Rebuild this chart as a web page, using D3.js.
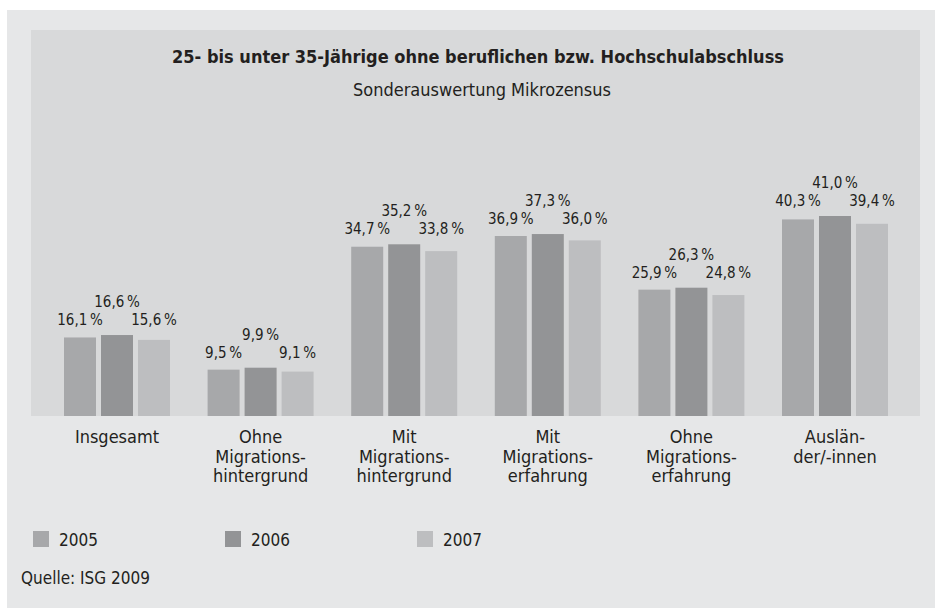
<!DOCTYPE html>
<html>
<head>
<meta charset="utf-8">
<script src="https://cdn.jsdelivr.net/npm/d3@7"></script>
<style>
  html, body { margin: 0; padding: 0; background: #ffffff; }
  svg text { font-family: "DejaVu Sans Condensed", "Liberation Sans Narrow", sans-serif; fill: #231f20; }
</style>
</head>
<body>
<svg id="chart" width="935" height="608"></svg>
<script>
// Kategorien (mehrzeilige Beschriftungen) und Jahresreihen
const categories = [
  ["Insgesamt"],
  ["Ohne", "Migrations-", "hintergrund"],
  ["Mit", "Migrations-", "hintergrund"],
  ["Mit", "Migrations-", "erfahrung"],
  ["Ohne", "Migrations-", "erfahrung"],
  ["Auslän-", "der/-innen"]
];
const years = ["2005", "2006", "2007"];
const values2005 = [16.1, 9.5, 34.7, 36.9, 25.9, 40.3];
const values2006 = [16.6, 9.9, 35.2, 37.3, 26.3, 41.0];
const values2007 = [15.6, 9.1, 33.8, 36.0, 24.8, 39.4];
const yearColors = ["#a7a8aa", "#939496", "#bdbec0"];

const title = "25- bis unter 35-Jährige ohne beruflichen bzw. Hochschulabschluss";
const subtitle = "Sonderauswertung Mikrozensus";
const source = "Quelle: ISG 2009";

const series = [values2005, values2006, values2007];
const fmt = v => d3.format(".1f")(v).replace(".", ",") + "\u202f%";

const svg = d3.select("#chart");

// Hintergrundflächen
svg.append("rect").attr("x", 7).attr("y", 10).attr("width", 928).attr("height", 598).attr("fill", "#e6e7e8");
svg.append("rect").attr("x", 31).attr("y", 30).attr("width", 889).attr("height", 386).attr("fill", "#d8d9da");

// Titel
svg.append("text").attr("x", 478).attr("y", 63).attr("text-anchor", "middle")
  .attr("font-size", 18).attr("font-weight", "bold").text(title);
svg.append("text").attr("x", 482).attr("y", 96).attr("text-anchor", "middle")
  .attr("font-size", 18).text(subtitle);

// Skalen
const catIdx = d3.range(categories.length);
const x0 = d3.scaleBand().domain(catIdx).range([45.2, 906.8]).padding(0);
const x1 = d3.scaleBand().domain(years).range([-53, 53]).paddingInner(0.135).paddingOuter(0);
const y = d3.scaleLinear().domain([0, 41]).range([416, 216]);

const groups = svg.append("g").selectAll("g").data(catIdx).join("g")
  .attr("transform", i => `translate(${x0(i) + x0.bandwidth() / 2},0)`);

groups.selectAll("rect").data(i => years.map((yr, k) => ({ yr, k, v: series[k][i] })))
  .join("rect")
  .attr("x", d => x1(d.yr))
  .attr("width", x1.bandwidth())
  .attr("y", d => y(d.v))
  .attr("height", d => y(0) - y(d.v))
  .attr("fill", d => yearColors[d.k]);

// Werte-Beschriftungen: mittlerer Balken höher, äußere gleich hoch
groups.each(function (i) {
  const g = d3.select(this);
  const top = y(d3.max(series, s => s[i]));
  years.forEach((yr, k) => {
    g.append("text")
      .attr("x", x1(yr) + x1.bandwidth() / 2)
      .attr("y", top - (k === 1 ? 33 : 15) + 5)
      .attr("text-anchor", "middle")
      .attr("font-size", 15)
      .text(fmt(series[k][i]));
  });
});

// Kategorienbeschriftung
groups.each(function (i) {
  const t = d3.select(this).append("text").attr("text-anchor", "middle").attr("font-size", 18);
  categories[i].forEach((line, j) => {
    t.append("tspan").attr("x", 0).attr("y", 443 + j * 19.5).text(line);
  });
});

// Legende
const legend = svg.append("g").selectAll("g").data(years).join("g")
  .attr("transform", (d, k) => `translate(${33 + k * 192},531)`);
legend.append("rect").attr("width", 16).attr("height", 16).attr("fill", (d, k) => yearColors[k]);
legend.append("text").attr("x", 26).attr("y", 15).attr("font-size", 17).text(d => d);

// Quelle
svg.append("text").attr("x", 21).attr("y", 584).attr("font-size", 17).text(source);
</script>
</body>
</html>
